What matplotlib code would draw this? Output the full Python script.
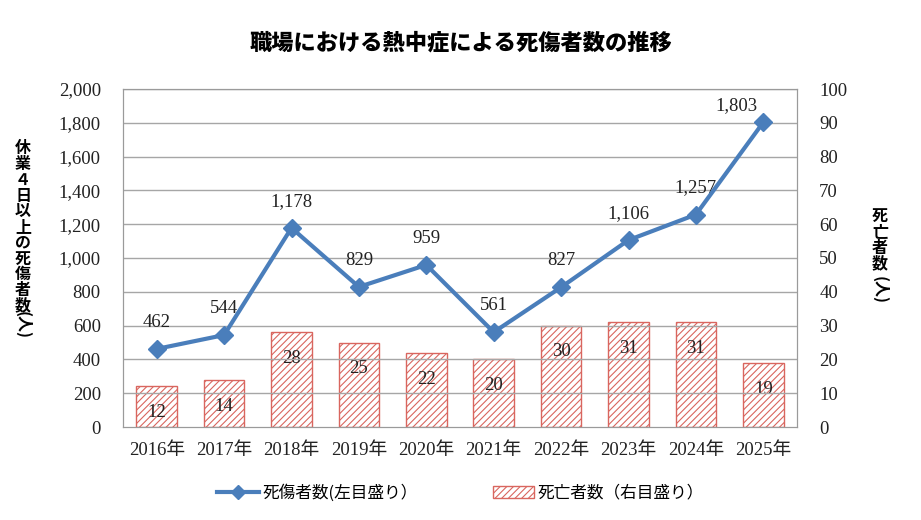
import matplotlib
matplotlib.use("Agg")
import matplotlib.pyplot as plt
from matplotlib.patches import Patch
from matplotlib.lines import Line2D

years = ["2016年", "2017年", "2018年", "2019年", "2020年", "2021年", "2022年", "2023年", "2024年", "2025年"]
casualties = [462, 544, 1178, 829, 959, 561, 827, 1106, 1257, 1803]
deaths = [12, 14, 28, 25, 22, 20, 30, 31, 31, 19]
left_ticks = list(range(0, 2001, 200))
right_ticks = list(range(0, 101, 10))

SERIF = ["Liberation Serif", "Noto Sans CJK JP", "DejaVu Serif"]
CJK = ["Noto Sans CJK JP", "DejaVu Sans"]
plt.rcParams["font.family"] = SERIF

LINE_C = "#4a7ebb"
BAR_C = "#d9665f"
TXT = "#222222"
FS = 13.5

fig = plt.figure(figsize=(9.21, 5.2), dpi=100)
ax = fig.add_axes([123/921, 1-427/520, (797-123)/921, (427-89)/520])
ax2 = ax.twinx()

x = list(range(len(years)))

ax2.set_zorder(1)
ax.set_zorder(2)
ax.patch.set_visible(False)

plt.rcParams["hatch.color"] = BAR_C
plt.rcParams["hatch.linewidth"] = 0.8
ax2.bar(x, deaths, width=0.6, facecolor="white", edgecolor=BAR_C, hatch="/////", linewidth=1.0)
for xi, d in zip(x, deaths):
    ax2.annotate(str(d), (xi, d), xytext=(0, -19), textcoords="offset points",
                 ha="center", va="center", fontsize=FS, color=TXT)

ax.plot(x, casualties, color=LINE_C, lw=3, marker="D", markersize=9, zorder=5)
for i, (xi, c) in enumerate(zip(x, casualties)):
    if i == len(x) - 1:
        dx, dy = -19, 6
    else:
        dx, dy = 0, 13
    ax.annotate(f"{c:,}", (xi, c), xytext=(dx, dy), textcoords="offset points",
                ha="center", va="bottom", fontsize=FS, color=TXT)

ax.set_xlim(-0.5, len(years) - 0.5)
ax.set_ylim(0, 2000)
ax2.set_ylim(0, 100)
ax.set_yticks(left_ticks)
ax.set_yticklabels([f"{v:,}" for v in left_ticks], fontsize=FS)
ax2.set_yticks(right_ticks)
ax2.set_yticklabels([str(v) for v in right_ticks], fontsize=FS)
ax.set_xticks(x)
ax.set_xticklabels(years, fontsize=FS)

for a in (ax, ax2):
    for s in a.spines.values():
        s.set_color("#9a9a9a")
    a.tick_params(length=0, colors=TXT)
ax.tick_params(axis="y", pad=16)
ax2.tick_params(axis="y", pad=16)
ax.tick_params(axis="x", pad=11)

ax2.grid(False)
for v in left_ticks[1:]:
    ax.axhline(v, color="#a6a6a6", lw=1.0, zorder=0)

fig.text(0.5, 1-43/520, "職場における熱中症による死傷者数の推移", ha="center", va="center",
         fontsize=16, fontweight="heavy", family=CJK)

fig.text(23/921, 1-227/520, "\n".join("休業４日以上の死傷者数"), ha="center", va="center",
         fontsize=11.5, fontweight="bold", family=CJK, linespacing=0.98)
fig.text(23/921, 1-325/520, "(人)", ha="center", va="center", rotation=-90,
         fontsize=11.5, fontweight="bold", family=CJK)

fig.text(880/921, 1-240/520, "\n".join("死亡者数"), ha="center", va="center",
         fontsize=11.5, fontweight="bold", family=CJK, linespacing=0.98)
fig.text(880/921, 1-290/520, "(人)", ha="center", va="center", rotation=-90,
         fontsize=11.5, fontweight="bold", family=CJK)

handles = [Line2D([0], [0], color=LINE_C, lw=3, marker="D", markersize=7),
           Patch(facecolor="white", edgecolor=BAR_C, hatch="/////")]
fig.legend(handles, ["死傷者数(左目盛り）", "死亡者数（右目盛り）"], loc="center",
           bbox_to_anchor=(0.5, 1-493/520), ncol=2, frameon=False,
           prop={"family": CJK, "size": 12}, columnspacing=4.5, handlelength=2.5,
           handletextpad=0.2)

fig.savefig("out.png", dpi=100)
